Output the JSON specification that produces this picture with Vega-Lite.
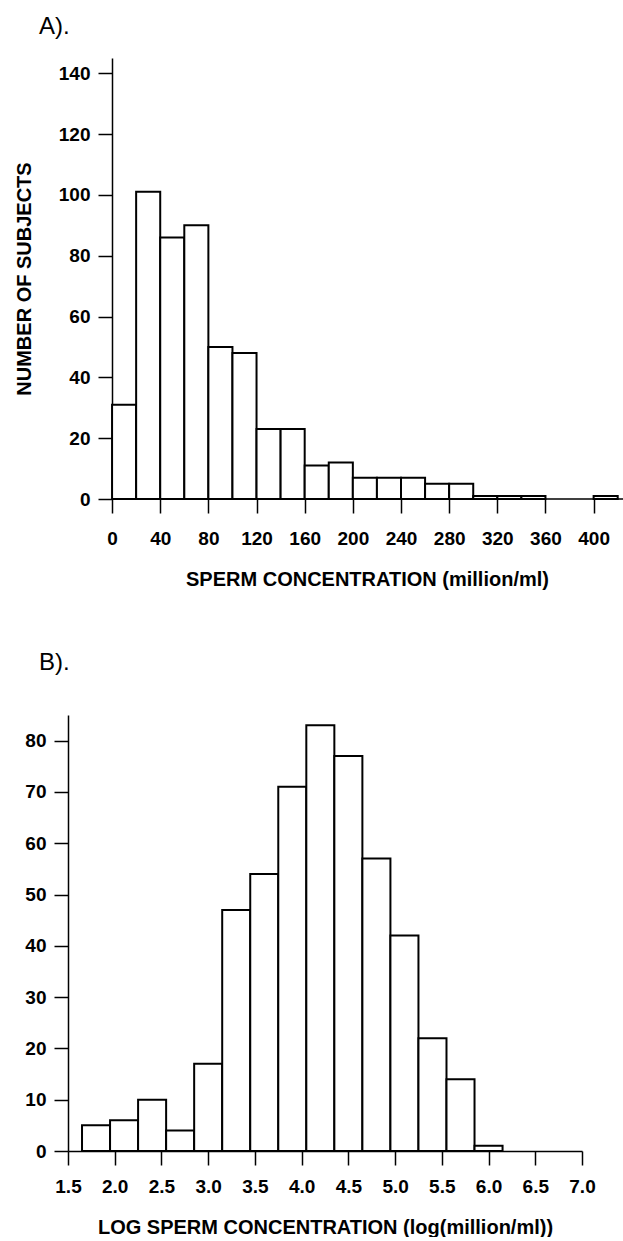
{
  "$schema": "https://vega.github.io/schema/vega-lite/v6.json",
  "padding": {"left": 14, "top": 15, "right": 0, "bottom": 0},
  "background": "white",
  "config": {
    "view": {"stroke": null},
    "font": "Liberation Sans",
    "axis": {
      "labelFont": "Liberation Sans", "labelFontSize": 19, "labelFontWeight": "bold", "labelColor": "black",
      "titleFont": "Liberation Sans", "titleFontSize": 20, "titleFontWeight": "bold", "titleColor": "black",
      "domainColor": "black", "domainWidth": 1.5, "tickColor": "black", "tickWidth": 1.5, "tickSize": 14,
      "grid": false, "labelFlush": false, "labelOverlap": false
    },
    "title": {"font": "Liberation Sans", "fontSize": 24, "fontWeight": "normal", "anchor": "start", "frame": "group", "color": "black", "baseline": "alphabetic"}
  },
  "spacing": 62,
  "vconcat": [
    {
      "title": {"text": "A).", "offset": 19, "dx": -29, "frame": "group"},
      "width": 555,
      "height": 441,
      "layer": [
        {
          "data": {"values": [
            {"lo": 0, "hi": 20, "n": 31},
            {"lo": 20, "hi": 40, "n": 101},
            {"lo": 40, "hi": 60, "n": 86},
            {"lo": 60, "hi": 80, "n": 90},
            {"lo": 80, "hi": 100, "n": 50},
            {"lo": 100, "hi": 120, "n": 48},
            {"lo": 120, "hi": 140, "n": 23},
            {"lo": 140, "hi": 160, "n": 23},
            {"lo": 160, "hi": 180, "n": 11},
            {"lo": 180, "hi": 200, "n": 12},
            {"lo": 200, "hi": 220, "n": 7},
            {"lo": 220, "hi": 240, "n": 7},
            {"lo": 240, "hi": 260, "n": 7},
            {"lo": 260, "hi": 280, "n": 5},
            {"lo": 280, "hi": 300, "n": 5},
            {"lo": 300, "hi": 320, "n": 1},
            {"lo": 320, "hi": 340, "n": 1},
            {"lo": 340, "hi": 360, "n": 1},
            {"lo": 400, "hi": 420, "n": 1}
          ]},
          "mark": {"type": "bar", "fill": "white", "stroke": "black", "strokeWidth": 2},
          "encoding": {
            "x": {
              "field": "lo", "type": "quantitative",
              "scale": {"domain": [-36.6, 424.4], "nice": false, "zero": false},
              "axis": {
                "values": [0, 40, 80, 120, 160, 200, 240, 280, 320, 360, 400],
                "domain": false,
                "title": "SPERM CONCENTRATION (million/ml)",
                "titleX": 299,
                "labelPadding": 16,
                "titlePadding": 21
              }
            },
            "x2": {"field": "hi"},
            "y": {
              "field": "n", "type": "quantitative",
              "scale": {"domain": [0, 145], "nice": false},
              "axis": {
                "values": [0, 20, 40, 60, 80, 100, 120, 140],
                "offset": -44,
                "title": "NUMBER OF SUBJECTS",
                "labelPadding": 8,
                "titlePadding": 24
              }
            },
            "y2": {"datum": 0}
          }
        },
        {
          "data": {"values": [{}]},
          "mark": {"type": "rule", "color": "black", "strokeWidth": 1.5},
          "encoding": {
            "x": {"datum": 0},
            "x2": {"datum": 424.4},
            "y": {"datum": 0}
          }
        }
      ]
    },
    {
      "title": {"text": "B).", "offset": 40, "dx": -29, "frame": "group"},
      "width": 514,
      "height": 436,
      "data": {"values": [
        {"lo": 1.65, "hi": 1.95, "n": 5},
        {"lo": 1.95, "hi": 2.25, "n": 6},
        {"lo": 2.25, "hi": 2.55, "n": 10},
        {"lo": 2.55, "hi": 2.85, "n": 4},
        {"lo": 2.85, "hi": 3.15, "n": 17},
        {"lo": 3.15, "hi": 3.45, "n": 47},
        {"lo": 3.45, "hi": 3.75, "n": 54},
        {"lo": 3.75, "hi": 4.05, "n": 71},
        {"lo": 4.05, "hi": 4.35, "n": 83},
        {"lo": 4.35, "hi": 4.65, "n": 77},
        {"lo": 4.65, "hi": 4.95, "n": 57},
        {"lo": 4.95, "hi": 5.25, "n": 42},
        {"lo": 5.25, "hi": 5.55, "n": 22},
        {"lo": 5.55, "hi": 5.85, "n": 14},
        {"lo": 5.85, "hi": 6.15, "n": 1}
      ]},
      "mark": {"type": "bar", "fill": "white", "stroke": "black", "strokeWidth": 2},
      "encoding": {
        "x": {
          "field": "lo", "type": "quantitative",
          "scale": {"domain": [1.5, 7.0], "nice": false, "zero": false},
          "axis": {
            "values": [1.5, 2.0, 2.5, 3.0, 3.5, 4.0, 4.5, 5.0, 5.5, 6.0, 6.5, 7.0],
            "format": ".1f",
            "title": "LOG SPERM CONCENTRATION (log(million/ml))",
            "labelPadding": 12,
            "titlePadding": 21
          }
        },
        "x2": {"field": "hi"},
        "y": {
          "field": "n", "type": "quantitative",
          "scale": {"domain": [0, 85], "nice": false},
          "axis": {
            "values": [0, 10, 20, 30, 40, 50, 60, 70, 80],
            "title": null,
            "labelPadding": 8
          }
        },
        "y2": {"datum": 0}
      }
    }
  ]
}
